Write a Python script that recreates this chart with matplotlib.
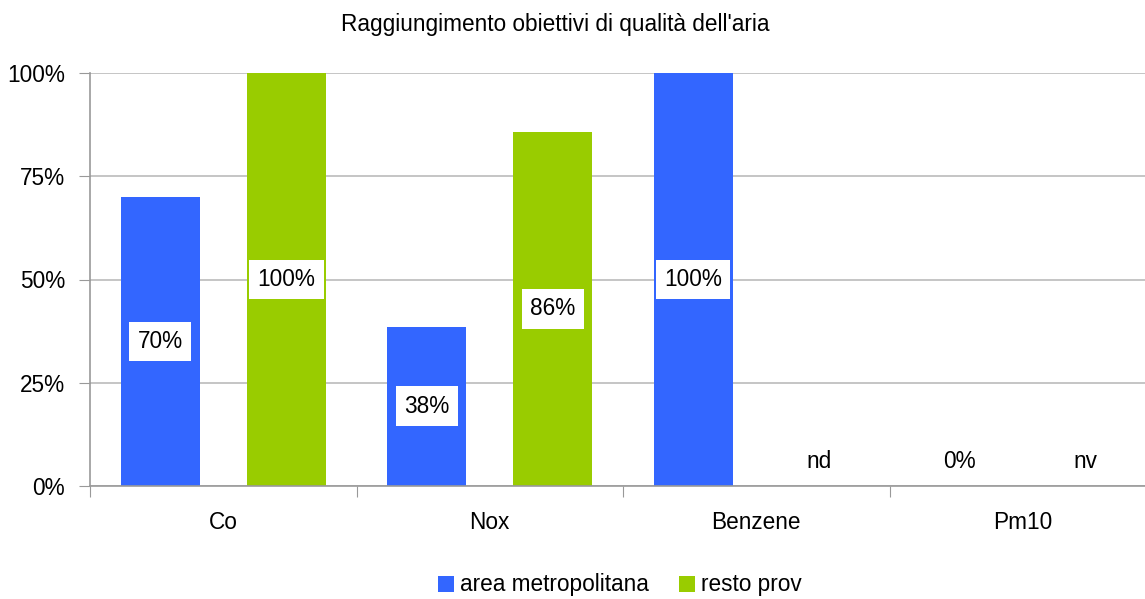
import matplotlib
matplotlib.use("Agg")
import matplotlib.pyplot as plt
from matplotlib.patches import Patch

categories = ["Co", "Nox", "Benzene", "Pm10"]
series_names = ["area metropolitana", "resto prov"]
metro = [70, 38.6, 100, 0]
resto = [100, 85.8, None, None]
metro_labels = ["70%", "38%", "100%", "0%"]
resto_labels = ["100%", "86%", "nd", "nv"]
yticks = [0, 25, 50, 75, 100]
ytick_labels = ["0%", "25%", "50%", "75%", "100%"]

BLUE = "#3366FF"
GREEN = "#99CC00"
FS = 16.3

plt.rcParams['font.family'] = ['Liberation Sans', 'DejaVu Sans']

fig = plt.figure(figsize=(11.45, 5.99), dpi=100)
W, H = 1145, 599
x0, x1 = 90, 90 + 4 * 266.5
ax = fig.add_axes([x0 / W, 1 - 486 / H, (x1 - x0) / W, (486 - 73) / H])
ax.set_xlim(0, 4)
ax.set_ylim(0, 100)

bw = 0.297
off = 0.237
for i in range(len(categories)):
    c = i + 0.5
    for val, lab, col, dx in ((metro[i], metro_labels[i], BLUE, -off),
                              (resto[i], resto_labels[i], GREEN, off)):
        v = val if val is not None else 0
        if v > 0:
            ax.bar(c + dx, v, width=bw, color=col, zorder=2)
            ax.text(c + dx, v / 2, lab, ha="center", va="center", fontsize=FS,
                    zorder=3, bbox=dict(facecolor="white", edgecolor="none", pad=6))
        else:
            ax.text(c + dx, 6, lab, ha="center", va="center", fontsize=FS, zorder=3)

ax.set_yticks(yticks)
ax.set_yticklabels(ytick_labels, fontsize=FS)
ax.set_xticks([0, 1, 2, 3, 4])
ax.set_xticklabels([])
ax.set_xticks([0.5, 1.5, 2.5, 3.5], minor=True)
ax.set_xticklabels(categories, minor=True, fontsize=FS)
ax.tick_params(axis="x", which="minor", length=0, pad=18)
ax.tick_params(axis="x", which="major", length=8, color="#999999", direction="out")
ax.tick_params(axis="y", length=8, color="#999999", direction="out", pad=10)
ax.grid(axis="y", color="#bbbbbb", linewidth=1.2, zorder=0)
for s in ("top", "right"):
    ax.spines[s].set_visible(False)
for s in ("left", "bottom"):
    ax.spines[s].set_color("#999999")
    ax.spines[s].set_linewidth(1.2)
ax.set_axisbelow(True)

fig.text(555 / W, 1 - 25 / H, "Raggiungimento obiettivi di qualità dell'aria",
         ha="center", va="center", fontsize=FS)

handles = [Patch(facecolor=BLUE), Patch(facecolor=GREEN)]
fig.legend(handles, series_names, loc="center", bbox_to_anchor=(620 / W, 1 - 585 / H),
           ncol=2, frameon=False, fontsize=FS, handlelength=0.7, handleheight=0.7,
           handletextpad=0.3, columnspacing=1.3, borderpad=0)

fig.savefig("out.png", dpi=100)
